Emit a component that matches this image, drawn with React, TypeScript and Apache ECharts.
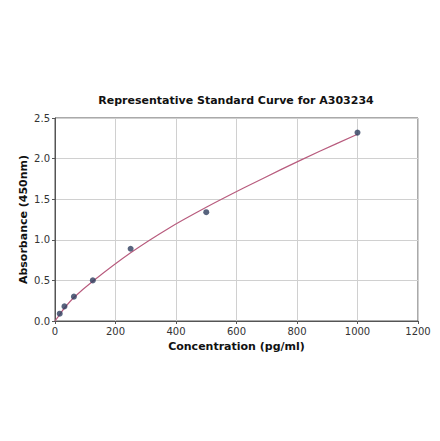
import React, { useEffect, useRef } from 'react';
import * as echarts from 'echarts';

// Standard points (concentration pg/ml, absorbance OD450)
const concentrations = [15.6, 31.25, 62.5, 125, 250, 500, 1000];
const absorbances = [0.09, 0.18, 0.30, 0.50, 0.89, 1.34, 2.32];

// Fitted curve
const curveX = [0, 15.6, 31.25, 62.5, 125, 250, 375, 500, 625, 750, 875, 1000];
const curveY = [0, 0.08, 0.16, 0.29, 0.49, 0.84, 1.14, 1.4, 1.64, 1.87, 2.09, 2.3];

const FONT = 'DejaVu Sans';

const App: React.FC = () => {
  const chartRef = useRef<HTMLDivElement>(null);

  useEffect(() => {
    if (!chartRef.current) return;
    const chart = echarts.init(chartRef.current, undefined, { renderer: 'svg' });

    const option: any = {
      animation: false,
      backgroundColor: '#fff',
      title: {
        text: 'Representative Standard Curve for A303234',
        left: 231,
        top: 90,
        textAlign: 'center',
        textStyle: { fontFamily: FONT, fontSize: 11, fontWeight: 'bold', color: '#111' },
      },
      grid: {
        left: 55,
        right: 22,
        top: 118,
        bottom: 120,
        show: true,
        borderColor: '#555',
        borderWidth: 1,
        backgroundColor: '#fff',
      },
      xAxis: {
        type: 'value',
        min: 0,
        max: 1200,
        interval: 200,
        name: 'Concentration (pg/ml)',
        nameLocation: 'middle',
        nameGap: 20,
        nameTextStyle: { fontFamily: FONT, fontSize: 11, fontWeight: 'bold', color: '#111' },
        axisLine: { show: true, lineStyle: { color: '#555' } },
        axisTick: { show: true, length: 3, lineStyle: { color: '#555' } },
        axisLabel: {
          fontFamily: FONT,
          fontSize: 10,
          color: '#333',
          margin: 5,
          formatter: (v: number) => String(v),
        },
        splitLine: { show: true, lineStyle: { color: '#d0d0d0', width: 1 } },
      },
      yAxis: {
        type: 'value',
        min: 0,
        max: 2.5,
        interval: 0.5,
        name: 'Absorbance (450nm)',
        nameLocation: 'middle',
        nameGap: 26,
        nameMoveOverlap: false,
        nameTextStyle: { fontFamily: FONT, fontSize: 11, fontWeight: 'bold', color: '#111' },
        axisLine: { show: true, lineStyle: { color: '#555' } },
        axisTick: { show: true, length: 3, lineStyle: { color: '#555' } },
        axisLabel: {
          fontFamily: FONT,
          fontSize: 10,
          color: '#333',
          margin: 5,
          formatter: (v: number) => v.toFixed(1),
        },
        splitLine: { show: true, lineStyle: { color: '#d0d0d0', width: 1 } },
      },
      series: [
        {
          type: 'line',
          data: curveX.map((x, i) => [x, curveY[i]]),
          smooth: 0.3,
          showSymbol: false,
          lineStyle: { color: '#b85c7e', width: 1.2 },
          z: 2,
        },
        {
          type: 'scatter',
          data: concentrations.map((x, i) => [x, absorbances[i]]),
          symbolSize: 6,
          itemStyle: { color: '#2e3d5e' },
          z: 3,
        },
      ],
    };

    chart.setOption(option);
    return () => chart.dispose();
  }, []);

  return <div ref={chartRef} style={{ width: 440, height: 441, margin: -8 }} />;
};

export default App;
